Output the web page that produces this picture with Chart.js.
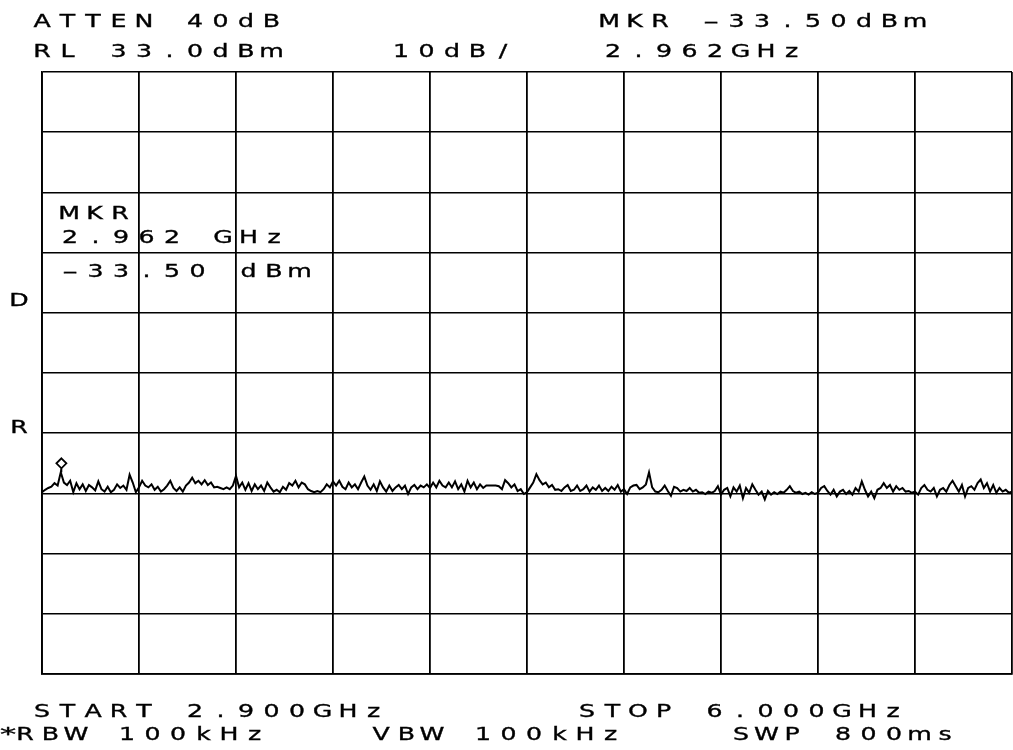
<!DOCTYPE html>
<html>
<head>
<meta charset="utf-8">
<script src="https://cdn.jsdelivr.net/npm/chart.js@4.4.1/dist/chart.umd.min.js"></script>
<style>
  html, body { margin: 0; padding: 0; background: #fff; }
  #wrap { width: 1013px; height: 750px; }
</style>
</head>
<body>
<div id="wrap"><canvas id="c" width="1013" height="750"></canvas></div>
<script>
// ---- data ----
const sweepStartGHz = 2.9;
const sweepStopGHz = 6.0;
const refLevelDbm = 33.0;
const dbPerDiv = 10;
const xGridGHz = [2.9, 3.21, 3.52, 3.83, 4.14, 4.45, 4.76, 5.07, 5.38, 5.69, 6.0];
const yGridDbm = [-67, -57, -47, -37, -27, -17, -7, 3, 13, 23, 33];
const markerGHz = 2.962;
const markerDbm = -33.50;
const traceDbm = [
  -36.8,-36.4,-36.1,-35.9,-35.3,-35.7,-33.5,-35.2,-35.6,-34.9,
  -36.8,-35.3,-36.3,-35.5,-36.6,-35.6,-36.0,-36.5,-35.0,-36.3,
  -36.7,-35.9,-36.8,-36.4,-35.5,-36.1,-35.7,-36.4,-33.9,-35.2,
  -36.8,-36.0,-34.9,-35.7,-36.0,-35.5,-36.4,-35.9,-36.7,-36.3,
  -35.7,-34.9,-36.1,-36.6,-36.0,-36.7,-35.7,-35.2,-34.4,-35.3,
  -34.9,-35.5,-34.8,-35.6,-35.2,-36.0,-35.9,-36.1,-36.3,-36.0,
  -36.3,-35.7,-34.1,-36.0,-35.2,-36.4,-35.3,-36.6,-35.5,-36.3,
  -35.7,-36.6,-35.2,-36.0,-36.7,-36.4,-36.8,-35.9,-36.4,-35.3,
  -35.7,-34.9,-36.0,-35.2,-35.5,-36.3,-36.6,-36.8,-36.6,-36.8,
  -36.3,-35.5,-36.0,-35.0,-35.7,-34.9,-35.9,-36.3,-35.2,-36.0,
  -35.5,-36.3,-35.2,-34.2,-35.7,-36.4,-35.5,-36.6,-35.0,-36.0,
  -36.7,-35.7,-36.6,-36.0,-35.6,-36.3,-35.7,-37.1,-36.0,-35.6,
  -36.3,-35.7,-36.0,-35.5,-36.1,-35.2,-36.0,-34.9,-35.7,-36.0,
  -35.2,-36.0,-35.0,-36.3,-35.5,-36.7,-34.9,-36.0,-35.2,-36.3,
  -35.5,-36.1,-35.7,-35.7,-35.7,-35.7,-35.8,-36.3,-34.8,-35.3,
  -36.0,-35.5,-36.6,-36.3,-37.1,-36.8,-36.0,-35.2,-33.8,-34.8,
  -35.5,-35.2,-36.0,-35.6,-36.4,-36.3,-36.6,-36.0,-35.6,-36.6,
  -36.4,-35.7,-36.6,-36.3,-35.7,-36.7,-36.0,-36.4,-35.7,-36.6,
  -36.1,-36.6,-35.9,-36.4,-35.6,-36.7,-36.3,-37.1,-36.0,-35.7,
  -35.6,-36.3,-36.0,-35.5,-33.5,-36.0,-36.7,-36.8,-36.4,-35.7,
  -36.6,-37.4,-35.9,-36.1,-36.7,-36.4,-36.6,-36.1,-36.7,-36.4,
  -36.9,-36.8,-37.1,-36.7,-36.9,-36.6,-35.8,-37.2,-36.4,-36.1,
  -37.5,-36.0,-36.7,-35.7,-37.8,-36.1,-36.9,-35.5,-36.4,-37.2,
  -36.7,-38.0,-36.6,-37.2,-36.8,-37.1,-36.7,-36.9,-36.4,-35.8,
  -36.6,-36.9,-36.7,-37.1,-36.9,-37.2,-36.8,-37.1,-36.9,-36.1,
  -35.8,-36.6,-37.2,-36.4,-37.5,-36.7,-36.4,-37.1,-36.6,-37.2,
  -36.1,-36.7,-35.0,-36.4,-37.5,-36.7,-37.8,-36.4,-36.1,-35.3,
  -36.1,-35.6,-36.7,-35.8,-36.4,-36.1,-36.7,-36.6,-36.9,-36.7,
  -37.2,-36.1,-35.6,-36.4,-36.7,-36.1,-37.5,-36.4,-36.1,-36.7,
  -35.6,-34.9,-35.8,-36.7,-35.6,-37.5,-36.1,-35.8,-36.4,-35.3,
  -34.7,-36.1,-35.3,-36.7,-35.6,-36.9,-36.1,-36.7,-36.4,-36.9,-36.7
];

// ---- text ----
const txtAtten = "ATTEN 40dB";
const txtMkrTop = "MKR -33.50dBm";
const txtRef = "RL 33.0dBm";
const txtScale = "10dB/";
const txtMkrFreqTop = "2.962GHz";
const txtMkrBlock1 = "MKR";
const txtMkrBlock2 = "2.962 GHz";
const txtMkrBlock3 = "-33.50 dBm";
const txtD = "D";
const txtR = "R";
const txtStart = "START 2.900GHz";
const txtStop = "STOP 6.000GHz";
const txtStar = "*";
const txtRbw = "RBW 100kHz";
const txtVbw = "VBW 100kHz";
const txtSwp = "SWP 800ms";

// ---- layout (first character centre x, baseline y) ----
const PITCH = 25.5;
const textLayout = [
  [txtAtten, 42, 27], [txtMkrTop, 609, 27],
  [txtRef, 42, 57], [txtScale, 401, 57], [txtMkrFreqTop, 613, 57],
  [txtMkrBlock1, 69, 219], [txtMkrBlock2, 70, 243], [txtMkrBlock3, 70, 277],
  [txtD, 19, 306], [txtR, 19, 433],
  [txtStart, 42, 717], [txtStop, 587, 717],
  [txtStar, 8, 740], [txtRbw, 25, 740], [txtVbw, 381, 740], [txtSwp, 741, 740]
];

const n = traceDbm.length;
const points = traceDbm.map((v, i) => ({
  x: sweepStartGHz + i * (sweepStopGHz - sweepStartGHz) / (n - 1),
  y: v
}));

const bgPlugin = {
  id: 'bg',
  beforeDraw(chart) {
    const ctx = chart.ctx;
    ctx.save();
    ctx.fillStyle = '#fff';
    ctx.fillRect(0, 0, chart.width, chart.height);
    ctx.restore();
  }
};

const markerPlugin = {
  id: 'marker',
  afterDatasetsDraw(chart) {
    const ctx = chart.ctx;
    const px = chart.scales.x.getPixelForValue(markerGHz);
    const py = chart.scales.y.getPixelForValue(markerDbm);
    ctx.save();
    ctx.strokeStyle = '#000';
    ctx.lineWidth = 1.8;
    ctx.beginPath();
    ctx.moveTo(px, py);
    ctx.lineTo(px, py - 4);
    ctx.stroke();
    const cy = py - 9;
    ctx.beginPath();
    ctx.moveTo(px, cy - 5);
    ctx.lineTo(px + 5, cy);
    ctx.lineTo(px, cy + 5);
    ctx.lineTo(px - 5, cy);
    ctx.closePath();
    ctx.stroke();
    ctx.restore();
  }
};

const textPlugin = {
  id: 'plotterText',
  afterDraw(chart) {
    const ctx = chart.ctx;
    ctx.save();
    ctx.fillStyle = '#000';
    ctx.strokeStyle = '#000';
    ctx.lineWidth = 0.35;
    ctx.font = '18px "DejaVu Sans"';
    ctx.textAlign = 'center';
    ctx.textBaseline = 'alphabetic';
    textLayout.forEach(([s, x0, yb]) => {
      for (let i = 0; i < s.length; i++) {
        const ch = s[i];
        if (ch === ' ') continue;
        ctx.save();
        ctx.translate(x0 + i * PITCH, yb);
        ctx.scale(ch === '-' ? 2.5 : (ch === '*' ? 1.8 : 1.4), 1);
        ctx.fillText(ch, 0, 0);
        ctx.strokeText(ch, 0, 0);
        ctx.restore();
      }
    });
    ctx.restore();
  }
};

new Chart(document.getElementById('c'), {
  type: 'line',
  data: {
    datasets: [{
      data: points,
      borderColor: '#000',
      borderWidth: 2,
      pointRadius: 0,
      fill: false,
      tension: 0
    }]
  },
  options: {
    responsive: false,
    animation: false,
    devicePixelRatio: 1,
    layout: { padding: { left: 42, top: 72, right: 1, bottom: 76 } },
    plugins: { legend: { display: false }, tooltip: { enabled: false } },
    scales: {
      x: {
        type: 'linear',
        min: sweepStartGHz,
        max: sweepStopGHz,
        afterBuildTicks(scale) { scale.ticks = xGridGHz.map(v => ({ value: v })); },
        ticks: { display: false },
        grid: { color: '#000', lineWidth: 1.8, drawTicks: false },
        border: { color: '#000', width: 1.8 }
      },
      y: {
        type: 'linear',
        min: refLevelDbm - 10 * dbPerDiv,
        max: refLevelDbm,
        afterBuildTicks(scale) { scale.ticks = yGridDbm.map(v => ({ value: v })); },
        ticks: { display: false },
        grid: { color: '#000', lineWidth: 1.6, drawTicks: false },
        border: { color: '#000', width: 1.8 }
      }
    }
  },
  plugins: [bgPlugin, markerPlugin, textPlugin]
});
</script>
</body>
</html>
